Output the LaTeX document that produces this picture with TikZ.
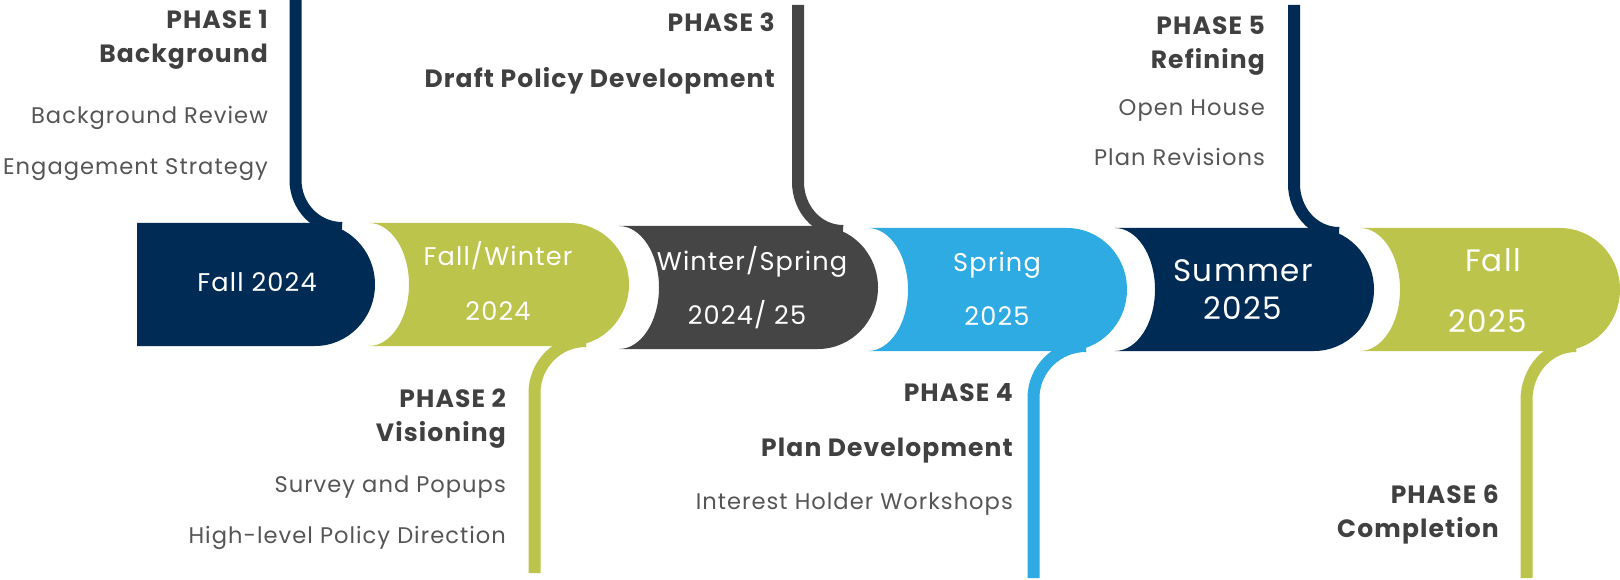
\documentclass[tikz,border=0pt]{standalone}
\usepackage{fontspec}
\setmainfont{Poppins}[LetterSpace=4.5]
\usetikzlibrary{positioning}

\definecolor{bandnavy}{HTML}{002B55}
\definecolor{bandlime}{HTML}{BCC44C}
\definecolor{bandgrey}{HTML}{454545}
\definecolor{bandsky}{HTML}{2EABE2}
\definecolor{headgrey}{HTML}{404040}
\definecolor{itemgrey}{HTML}{555555}

\begin{document}
\begin{tikzpicture}[x=1pt, y=-1pt,
    phase_head/.style={anchor=east, inner sep=0pt, text height=17.5pt, text depth=0pt, font=\fontsize{25}{29}\selectfont\bfseries, text=headgrey},
    phase_item/.style={anchor=east, inner sep=0pt, text height=15.8pt, text depth=0pt, font=\fontsize{22.6}{27}\selectfont, text=itemgrey},
    season/.style={inner sep=0pt, text height=17.9pt, text depth=0pt, font=\fontsize{25.6}{30}\selectfont, text=white},
    season_big/.style={season, text height=21.7pt, font=\fontsize{31}{36}\selectfont},
    stem/.style={line width=12pt}
  ]
  \useasboundingbox (0,0) rectangle (1620,580);

  % Stems above the band (phases 1, 3, 5)
  \coordinate (stem1_top) at (295.5,0);
  \coordinate (stem1_bend) at (295.5,180);
  \coordinate (stem1_join) at (342,228);
  \coordinate (stem3_top) at (798,5);
  \coordinate (stem3_bend) at (798,182);
  \coordinate (stem3_join) at (843,231);
  \coordinate (stem5_top) at (1294,5);
  \coordinate (stem5_bend) at (1294,184);
  \coordinate (stem5_join) at (1339,233);
  \draw[stem, bandnavy] (stem1_top) -- (stem1_bend) to[out=-90, in=180] (stem1_join);
  \draw[stem, bandgrey] (stem3_top) -- (stem3_bend) to[out=-90, in=180] (stem3_join);
  \draw[stem, bandnavy] (stem5_top) -- (stem5_bend) to[out=-90, in=180] (stem5_join);

  % Stems below the band (phases 2, 4, 6)
  \coordinate (stem2_foot) at (534.5,573);
  \coordinate (stem2_bend) at (534.5,393);
  \coordinate (stem2_join) at (586,341);
  \coordinate (stem4_foot) at (1033.5,578);
  \coordinate (stem4_bend) at (1033.5,398);
  \coordinate (stem4_join) at (1086,346);
  \coordinate (stem6_foot) at (1526.5,578);
  \coordinate (stem6_bend) at (1526.5,400);
  \coordinate (stem6_join) at (1576,346);
  \draw[stem, bandlime] (stem2_foot) -- (stem2_bend) to[out=90, in=180] (stem2_join);
  \draw[stem, bandsky] (stem4_foot) -- (stem4_bend) to[out=90, in=180] (stem4_join);
  \draw[stem, bandlime] (stem6_foot) -- (stem6_bend) to[out=90, in=180] (stem6_join);

  % First band segment has a straight left edge
  \fill[bandnavy] (137,223) -- (315,223)
    arc[start angle=-90, end angle=90, x radius=60, y radius=61.5] -- (137,346) -- cycle;

  % Remaining segments: concave left end, rounded right end
  \foreach \L/\T/\R/\col in {369/223/629/bandlime, 619/226/878/bandgrey, 868/228/1127/bandsky,
      1115/228/1374/bandnavy, 1360/228/1620/bandlime} {
    \fill[\col] (\L,\T) -- ({\R-60},\T)
      arc[start angle=-90, end angle=90, x radius=60, y radius=61.5] -- (\L,{\T+123})
      arc[start angle=90, end angle=-90, x radius=40, y radius=61.5] -- cycle;
  }

  % Season labels
  \node[season] (s1) at (257,283) {Fall 2024};
  \node[season] (s2a) at (498,257) {Fall/Winter};
  \node[season] (s2b) at (498,312) {2024};
  \node[season] (s3a) at (752,262) {Winter/Spring};
  \node[season] (s3b) at (747,316) {2024/ 25};
  \node[season] (s4a) at (997,263) {Spring};
  \node[season] (s4b) at (997,317) {2025};
  \node[season_big] (s5a) at (1243,271) {Summer};
  \node[season_big] (s5b) at (1243,309) {2025};
  \node[season_big] (s6a) at (1493,261) {Fall};
  \node[season_big] (s6b) at (1488,322) {2025};

  % Phase 1
  \node[phase_head] (p1a) at (268,20) {PHASE 1};
  \node[phase_head] (p1b) at (268,53.5) {Background};
  \node[phase_item] (p1c) at (268,116) {Background Review};
  \node[phase_item] (p1d) at (268,167) {Engagement Strategy};

  % Phase 2
  \node[phase_head] (p2a) at (506,399) {PHASE 2};
  \node[phase_head] (p2b) at (506,433) {Visioning};
  \node[phase_item] (p2c) at (506,484.5) {Survey and Popups};
  \node[phase_item] (p2d) at (506,536) {High-level Policy Direction};

  % Phase 3
  \node[phase_head] (p3a) at (775,23) {PHASE 3};
  \node[phase_head] (p3b) at (775,78.5) {Draft Policy Development};

  % Phase 4
  \node[phase_head] (p4a) at (1013,392.5) {PHASE 4};
  \node[phase_head] (p4b) at (1013,448) {Plan Development};
  \node[phase_item] (p4c) at (1013,502) {Interest Holder Workshops};

  % Phase 5
  \node[phase_head] (p5a) at (1265,26) {PHASE 5};
  \node[phase_head] (p5b) at (1265,60) {Refining};
  \node[phase_item] (p5c) at (1265,108) {Open House};
  \node[phase_item] (p5d) at (1265,158) {Plan Revisions};

  % Phase 6
  \node[phase_head] (p6a) at (1499,495) {PHASE 6};
  \node[phase_head] (p6b) at (1499,529) {Completion};
\end{tikzpicture}
\end{document}
